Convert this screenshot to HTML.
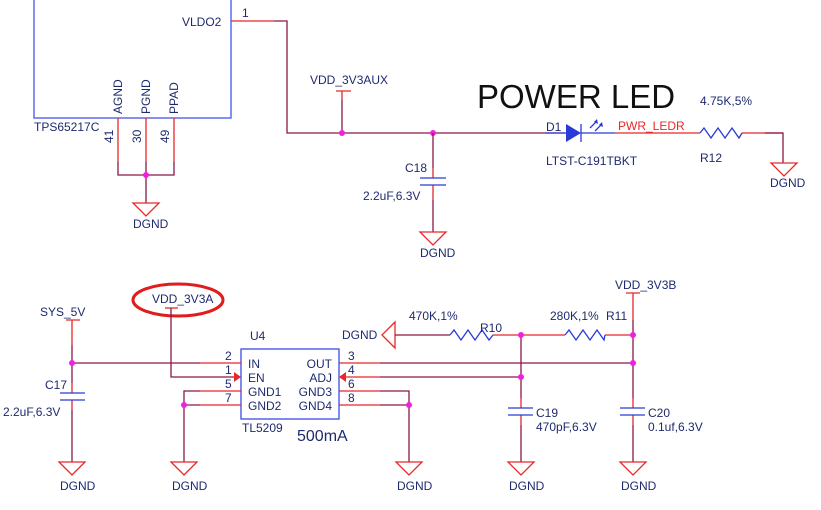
<!DOCTYPE html>
<html><head><meta charset="utf-8"><style>
html,body{margin:0;padding:0;background:#fff;}
svg{display:block;font-family:"Liberation Sans",sans-serif;}
.t{fill:#1e2a6e;font-size:12px;}
.w{stroke:#8a1848;stroke-width:1.3;fill:none;}
.r{stroke:#e8282a;stroke-width:1.3;fill:none;}
.b{stroke:#2a3ad8;stroke-width:1.3;fill:none;}
.g{stroke:#e8282a;stroke-width:1.3;fill:#fff;}
.j{fill:#f020e0;}
</style></head><body>
<svg width="821" height="510" viewBox="0 0 821 510">
<defs>
<g id="gnd"><polygon class="g" points="-13,0 13,0 0,13"/></g>
</defs>
<rect x="34" y="-2" width="197" height="120" fill="none" stroke="#5a6cf0" stroke-width="1.5"/>
<text class="t" x="182" y="26">VLDO2</text>
<text class="t" x="242" y="17">1</text>
<text class="t" x="34" y="131">TPS65217C</text>
<g class="t" style="font-size:12px">
<text transform="translate(122,114) rotate(-90)">AGND</text>
<text transform="translate(150,114) rotate(-90)">PGND</text>
<text transform="translate(178,114) rotate(-90)">PPAD</text>
<text transform="translate(113,143) rotate(-90)">41</text>
<text transform="translate(141,143) rotate(-90)">30</text>
<text transform="translate(169,143) rotate(-90)">49</text>
</g>
<path class="r" d="M118,118V162M146,118V162M174,118V162M231,21H274"/>
<path class="w" d="M118,162V175H174V162M146,162V203M274,21H287V133H565M342,133V100"/>
<path class="r" d="M336,91H351M342,91V100"/>
<text class="t" x="310" y="84">VDD_3V3AUX</text>
<use href="#gnd" x="146" y="203"/>
<text class="t" x="133" y="228">DGND</text>
<circle class="j" cx="146" cy="175" r="3"/>
<circle class="j" cx="342" cy="133" r="3"/>
<circle class="j" cx="433" cy="133" r="3"/>
<path class="w" d="M433,133V168M433,200V232"/>
<path class="r" d="M433,168V178M433,185V200"/>
<path class="b" d="M420,178H446M420,185H446"/>
<text class="t" x="405" y="172">C18</text>
<text class="t" x="363" y="200">2.2uF,6.3V</text>
<use href="#gnd" x="433" y="232"/>
<text class="t" x="420" y="257">DGND</text>
<text x="477" y="108" style="font-size:33px;fill:#111">POWER LED</text>
<text class="t" x="546" y="131">D1</text>
<path class="b" d="M545,133H566M581,133H615"/>
<polygon points="566,124 566,142 581,133" fill="#2a3ad8"/>
<path class="b" d="M581,124V142M590,128L597,121M595,131L602,124"/>
<polygon points="597,119 598,124 594,122" fill="#2a3ad8"/>
<polygon points="602,122 603,127 599,125" fill="#2a3ad8"/>
<text x="618" y="130" style="font-size:12px;fill:#e8282a">PWR_LEDR</text>
<text class="t" x="546" y="165">LTST-C191TBKT</text>
<path class="r" d="M615,133H700M742,133H783"/>
<path class="b" d="M700,133L704,128L711,138L718,128L725,138L732,128L739,138L742,133"/>
<text class="t" x="700" y="105">4.75K,5%</text>
<text class="t" x="700" y="162">R12</text>
<path class="w" d="M765,133H783V163"/>
<use href="#gnd" x="784" y="163"/>
<text class="t" x="770" y="187">DGND</text>
<ellipse cx="178" cy="300" rx="45" ry="16" fill="none" stroke="#e01c1c" stroke-width="3"/>
<text class="t" x="152" y="303">VDD_3V3A</text>
<path class="r" d="M165,308H178"/>
<path class="w" d="M171,308V377H236"/>
<polygon points="241,377 234,372 234,382" fill="#e8282a"/>
<text class="t" x="40" y="316">SYS_5V</text>
<path class="r" d="M66,320H80M72,320V345"/>
<path class="w" d="M72,345V383M72,410V462M72,363H200"/>
<path class="r" d="M72,383V393M72,400V410"/>
<path class="b" d="M60,393H85M60,400H85"/>
<circle class="j" cx="72" cy="363" r="3"/>
<text class="t" x="45" y="389">C17</text>
<text class="t" x="3" y="416">2.2uF,6.3V</text>
<use href="#gnd" x="72" y="462"/><text class="t" x="60" y="490">DGND</text>
<rect x="241" y="349" width="98" height="70" fill="none" stroke="#3a4ae8" stroke-width="1.3"/>
<text class="t" x="250" y="340">U4</text>
<g class="t" style="font-size:12px">
<text x="248" y="368">IN</text><text x="248" y="382">EN</text><text x="248" y="396">GND1</text><text x="248" y="410">GND2</text>
<text x="332" y="368" text-anchor="end">OUT</text><text x="332" y="382" text-anchor="end">ADJ</text><text x="332" y="396" text-anchor="end">GND3</text><text x="332" y="410" text-anchor="end">GND4</text>
<text x="225" y="360">2</text><text x="225" y="374">1</text><text x="225" y="388">5</text><text x="225" y="402">7</text>
<text x="348" y="360">3</text><text x="348" y="374">4</text><text x="348" y="388">6</text><text x="348" y="402">8</text>
</g>
<text class="t" x="242" y="432">TL5209</text>
<text x="297" y="441" style="font-size:16px;fill:#1e2a6e">500mA</text>
<path class="r" d="M200,363H241M200,391H241M200,405H241M339,363H380M339,391H380M339,405H380M346,377H380"/>
<path class="w" d="M200,391H184V462M184,405H200M380,391H409V462M380,405H409M380,363H633M380,377H521"/>
<polygon points="339,377 346,372 346,382" fill="#e8282a"/>
<circle class="j" cx="184" cy="405" r="3"/><circle class="j" cx="409" cy="405" r="3"/>
<use href="#gnd" x="184" y="462"/><text class="t" x="172" y="490">DGND</text>
<use href="#gnd" x="409" y="462"/><text class="t" x="397" y="490">DGND</text>
<polygon class="g" points="395,322 395,348 382,335"/>
<text class="t" x="342" y="339">DGND</text>
<path class="w" d="M395,335H450"/>
<path class="b" d="M450,335L454,330L461,340L468,330L475,340L482,330L489,340L493,335"/>
<path class="r" d="M493,335H521H565M605,335H633"/>
<path class="b" d="M565,335L569,330L576,340L583,330L590,340L597,330L604,340L605,335"/>
<text class="t" x="409" y="320">470K,1%</text><text class="t" x="480" y="332">R10</text>
<text class="t" x="550" y="320">280K,1%</text><text class="t" x="606" y="320">R11</text>
<text class="t" x="615" y="289">VDD_3V3B</text>
<path class="r" d="M626,293H640M633,293V320"/>
<path class="w" d="M633,320V398M633,425V462M521,335V398M521,425V462"/>
<path class="r" d="M633,398V408M633,415V425M521,398V408M521,415V425"/>
<path class="b" d="M620,408H645M620,415H645M508,408H533M508,415H533"/>
<circle class="j" cx="521" cy="335" r="3"/><circle class="j" cx="633" cy="335" r="3"/>
<circle class="j" cx="633" cy="363" r="3"/><circle class="j" cx="521" cy="377" r="3"/>
<text class="t" x="536" y="417">C19</text><text class="t" x="536" y="431">470pF,6.3V</text>
<text class="t" x="648" y="417">C20</text><text class="t" x="648" y="431">0.1uf,6.3V</text>
<use href="#gnd" x="521" y="462"/><text class="t" x="509" y="490">DGND</text>
<use href="#gnd" x="633" y="462"/><text class="t" x="621" y="490">DGND</text>
</svg>
</body></html>
